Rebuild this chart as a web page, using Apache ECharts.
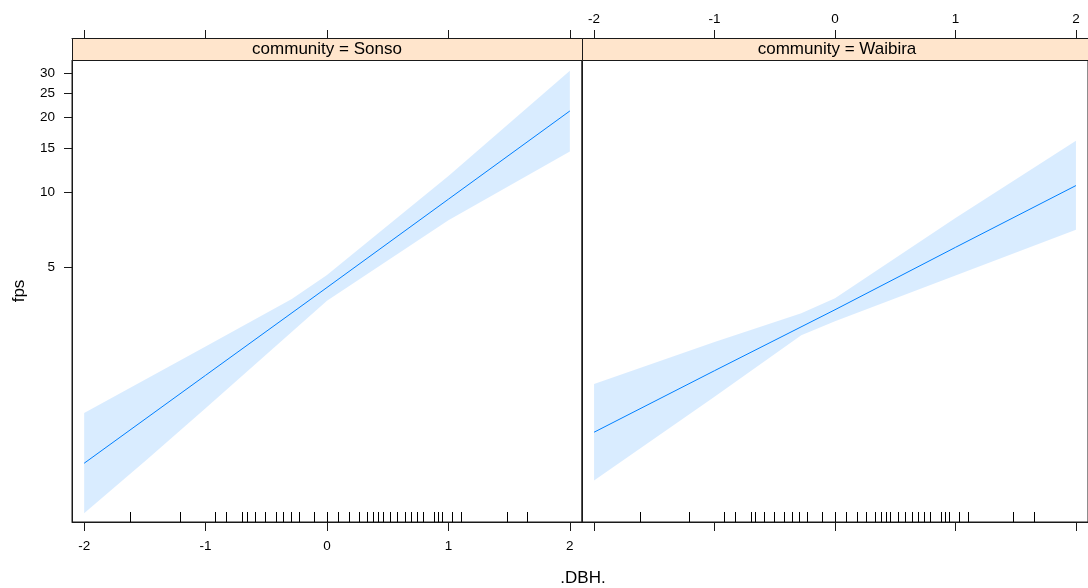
<!DOCTYPE html>
<html>
<head>
<meta charset="utf-8">
<script src="https://cdn.jsdelivr.net/npm/echarts@6/dist/echarts.min.js"></script>
<style>
html,body{margin:0;padding:0;background:#fff;}
#chart{width:1088px;height:588px;}
</style>
</head>
<body>
<div id="chart"></div>
<script>
// ---- data (fps values) ----
const panels = ['community = Sonso', 'community = Waibira'];
const xTicks = [-2, -1, 0, 1, 2];
const yTickLabels = [5, 10, 15, 20, 25, 30];

const sonsoFit   = [[-2, 0.81], [-1, 1.83], [0, 4.13], [1, 9.36], [2, 21.2]];
const sonsoUpper = [[-2, 1.29], [-1, 2.39], [-0.29, 3.71], [0, 4.64], [1, 11.6], [2, 30.8]];
const sonsoLower = [[-2, 0.51], [-1.48, 0.84], [-1, 1.35], [0, 3.65], [1, 7.7], [2, 14.56]];

const waibiraFit   = [[-2, 1.08], [-1, 1.91], [0, 3.36], [1, 5.99], [2, 10.62]];
const waibiraUpper = [[-2, 1.69], [-1, 2.49], [-0.28, 3.25], [0, 3.74], [1, 7.86], [2, 16.1]];
const waibiraLower = [[-2, 0.69], [-1, 1.50], [-0.28, 2.65], [0, 3.02], [1, 4.61], [2, 7.05]];

const rugDBH = [-1.62, -1.21, -0.92, -0.83, -0.70, -0.66, -0.59, -0.51, -0.42, -0.36, -0.30, -0.23,
  -0.11, 0.00, 0.09, 0.18, 0.26, 0.33, 0.38, 0.42, 0.46, 0.52, 0.58, 0.64, 0.69, 0.74, 0.79,
  0.88, 0.91, 0.95, 1.03, 1.10, 1.48, 1.65];

const xRange = [-2.1, 2.1];
const yRange = [0.47, 34.0];

// ---- layout / style ----
const FONT = 'Liberation Sans, Arial, sans-serif';
const LINE_COL = '#0080FF';
const BAND_COL = 'rgba(0,128,255,0.15)';
const STRIP_COL = '#FFE5CC';
const FRAME = '#1a1a1a';
const GRID_TOP = 60, GRID_H = 462, GRID_W = 510;
const gridLefts = [72, 582];
const STRIP_H = 22;

const ln = v => Math.log(v);
const yMinLn = ln(yRange[0]), yMaxLn = ln(yRange[1]);

function toLn(arr) { return arr.map(p => [p[0], ln(p[1])]); }

function bandSeries(idx, upper, lower) {
  return {
    type: 'custom', xAxisIndex: idx, yAxisIndex: idx, silent: true, z: 1,
    data: [[0, 0]],
    renderItem: function (params, api) {
      const pts = [];
      upper.forEach(p => pts.push(api.coord([p[0], ln(p[1])])));
      lower.slice().reverse().forEach(p => pts.push(api.coord([p[0], ln(p[1])])));
      return { type: 'polygon', shape: { points: pts }, style: { fill: BAND_COL, stroke: null } };
    }
  };
}

function fitSeries(idx, fit) {
  return {
    type: 'line', xAxisIndex: idx, yAxisIndex: idx, data: toLn(fit), showSymbol: false, silent: true, z: 3,
    lineStyle: { color: LINE_COL, width: 1 }, animation: false
  };
}

function rugSeries(idx) {
  return {
    type: 'custom', xAxisIndex: idx, yAxisIndex: idx, silent: true, z: 4,
    data: rugDBH.map(v => [v, yMinLn]),
    renderItem: function (params, api) {
      const pt = api.coord([api.value(0), api.value(1)]);
      const x = Math.round(pt[0]) + 0.5;
      return { type: 'line', shape: { x1: x, y1: pt[1] - 10, x2: x, y2: pt[1] },
        style: { stroke: '#000', lineWidth: 1 } };
    }
  };
}

const grids = gridLefts.map(l => ({
  left: l, top: GRID_TOP, width: GRID_W, height: GRID_H,
  show: true, borderColor: FRAME, borderWidth: 1, backgroundColor: '#fff'
}));

const labelStyle = { color: '#000', fontFamily: FONT, fontSize: 13.5 };

const xAxes = [];
gridLefts.forEach((l, i) => {
  xAxes.push({
    type: 'value', gridIndex: i, position: 'bottom', min: xRange[0], max: xRange[1],
    axisLine: { show: true, onZero: false, lineStyle: { color: FRAME } },
    axisTick: { show: true, length: 9, customValues: xTicks, lineStyle: { color: FRAME } },
    axisLabel: Object.assign({ show: i === 0, margin: 17, customValues: xTicks }, labelStyle),
    splitLine: { show: false }
  });
});
gridLefts.forEach((l, i) => {
  xAxes.push({
    type: 'value', gridIndex: i, position: 'top', offset: STRIP_H, min: xRange[0], max: xRange[1],
    axisLine: { show: true, onZero: false, lineStyle: { color: FRAME } },
    axisTick: { show: true, length: 8, customValues: xTicks, lineStyle: { color: FRAME } },
    axisLabel: Object.assign({ show: i === 1, margin: 12, customValues: xTicks }, labelStyle),
    splitLine: { show: false }
  });
});

const yTickLn = yTickLabels.map(v => ln(v));
const yAxes = gridLefts.map((l, i) => ({
  type: 'value', gridIndex: i, min: yMinLn, max: yMaxLn,
  axisLine: { show: true, onZero: false, lineStyle: { color: FRAME } },
  axisTick: { show: i === 0, length: 8, customValues: yTickLn, lineStyle: { color: FRAME } },
  axisLabel: Object.assign({ show: i === 0, margin: 17, customValues: yTickLn,
    formatter: v => String(Math.round(Math.exp(v))) }, labelStyle),
  splitLine: { show: false }
}));

const graphics = [];
gridLefts.forEach((l, i) => {
  graphics.push({
    type: 'rect', shape: { x: l + 0.5, y: GRID_TOP - STRIP_H + 0.5, width: GRID_W, height: STRIP_H },
    style: { fill: STRIP_COL, stroke: FRAME, lineWidth: 1 }, z: 10, silent: true
  });
  graphics.push({
    type: 'text', x: l + GRID_W / 2, y: GRID_TOP - STRIP_H / 2,
    style: { text: panels[i], font: '17px ' + FONT, fill: '#000', align: 'center', verticalAlign: 'middle' },
    z: 11, silent: true
  });
});
graphics.push({
  type: 'text', x: 19, y: GRID_TOP + GRID_H / 2, rotation: Math.PI / 2,
  style: { text: 'fps', font: '17px ' + FONT, fill: '#000', align: 'center', verticalAlign: 'middle' }, silent: true
});
graphics.push({
  type: 'text', x: 583, y: 578,
  style: { text: '.DBH.', font: '17px ' + FONT, fill: '#000', align: 'center', verticalAlign: 'middle' }, silent: true
});

const chart = echarts.init(document.getElementById('chart'), null, { renderer: 'canvas' });
chart.setOption({
  animation: false,
  backgroundColor: '#fff',
  grid: grids,
  xAxis: xAxes,
  yAxis: yAxes,
  series: [
    bandSeries(0, sonsoUpper, sonsoLower), fitSeries(0, sonsoFit), rugSeries(0),
    bandSeries(1, waibiraUpper, waibiraLower), fitSeries(1, waibiraFit), rugSeries(1)
  ],
  graphic: graphics
});
</script>
</body>
</html>
